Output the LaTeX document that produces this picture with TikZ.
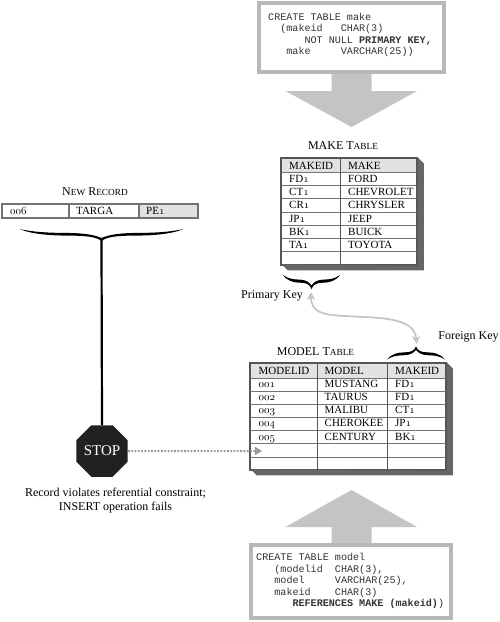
\documentclass[tikz,border=0pt]{standalone}
\usepackage{fontspec}
\setmainfont{Liberation Serif}
\setmonofont{Liberation Mono}
\usepackage{tikz}
\usetikzlibrary{arrows.meta, calc, positioning, shapes.geometric}
\definecolor{boxgray}{HTML}{B8B8B8}
\definecolor{arrowgray}{HTML}{C4C4C4}
\definecolor{framegray}{HTML}{555555}
\definecolor{shadowgray}{HTML}{666666}
\definecolor{headgray}{HTML}{E2E2E2}
\newcommand{\os}[1]{{\usefont{OML}{cmm}{m}{it}#1}}
\newcommand{\capsmall}[1]{{\fontsize{9.3}{11}\selectfont #1}}
\tikzset{
    sqlbox/.style={draw=boxgray, line width=4pt, fill=white, inner sep=0pt},
    sqltext/.style={anchor=west, align=left, inner sep=0pt, text=black!80, font=\fontsize{10.1}{11.5}\selectfont\ttfamily},
    bigarrow/.style={fill=arrowgray},
    tableframe/.style={draw=framegray, line width=1.5pt, fill=white, inner sep=0pt},
    rowline/.style={draw=black!55, line width=0.8pt},
    cell/.style={anchor=base west, inner sep=0pt, font=\fontsize{11}{13}\selectfont},
    title/.style={inner sep=0pt, font=\fontsize{12}{14}\selectfont},
    keylabel/.style={inner sep=0pt, font=\fontsize{12}{14}\selectfont},
    recfield/.style={draw=black!55, line width=2pt, fill=white, inner sep=0pt, minimum height=14pt},
    swash/.pic={
        \fill (-1,0) .. controls (-.8,.3) and (-.6,.32) .. (-.4,.33) .. controls (-.2,.35) and (-.08,.5) .. (0,.75)
            .. controls (.08,.5) and (.2,.35) .. (.4,.33) .. controls (.6,.32) and (.8,.3) .. (1,0)
            .. controls (.85,.45) and (.6,.55) .. (.4,.55) .. controls (.2,.55) and (.06,.65) .. (0,1)
            .. controls (-.06,.65) and (-.2,.55) .. (-.4,.55) .. controls (-.6,.55) and (-.85,.45) .. (-1,0) -- cycle;
    }
}
\begin{document}
\begin{tikzpicture}[x=1pt, y=-1pt, >=stealth]
    \useasboundingbox (0,0) rectangle (500,622);

    % CREATE TABLE make
    \node[sqlbox, minimum width=185pt, minimum height=69pt] (makesql) at (351.5,37.5) {};
    \node[sqltext] (makecode) at (268,35) {CREATE TABLE make\\~~(makeid~~~CHAR(3)\\~~~~~~NOT NULL \textbf{PRIMARY KEY,}\\~~~make~~~~~VARCHAR(25))};
    \fill[bigarrow] ($(makesql.south)+(-20,0)$) -- ++(0,17) -- ++(-46,0) -- ++(66,36) -- ++(65.5,-36) -- ++(-45.5,0) -- ++(0,-17) -- cycle;

    % MAKE table
    \node[title] (maketitle) at (343,146) {MAKE T\capsmall{ABLE}};
    \node[tableframe, minimum width=136pt, minimum height=107pt] (maketab) at (349,211.5) {};
    \fill[shadowgray] (maketab.north east) -- ++(6,6) -- ++(0,107) -- ++(-136,0) -- ++(-6,-6) -- (maketab.south east) -- cycle;
    \fill[headgray] (282,159) rectangle (416,172);
    \foreach \i in {0,...,6} \draw[rowline] (281,{172.5+13.15*\i}) -- (417,{172.5+13.15*\i});
    \draw[framegray, line width=0.9pt] (340,158) -- (340,265);
    \foreach \a/\b [count=\i from 0] in {MAKEID/MAKE, FD\os{1}/FORD, CT\os{1}/CHEVROLET, CR\os{1}/CHRYSLER, JP\os{1}/JEEP, BK\os{1}/BUICK, TA\os{1}/TOYOTA} {
        \node[cell] (makea\i) at (289,{169.2+13.2*\i}) {\a};
        \node[cell] (makeb\i) at (348,{169.2+13.2*\i}) {\b};
    }

    % Primary key
    \pic[xscale=28.5, yscale=14] (pkbrace) at (311.5,275) {swash};
    \node[keylabel] (pklabel) at (272,296) {Primary Key};

    % Foreign key
    \pic[xscale=29, yscale=-13] (fkbrace) at (416,359.5) {swash};
    \node[keylabel] (fklabel) at (468.5,337) {Foreign Key};

    % Key relation
    \coordinate (pktip) at (311,292);
    \coordinate (fktip) at (416.5,344);
    \draw[{Stealth[length=8pt,width=8pt]}-{Stealth[length=8pt,width=8pt]}, arrowgray, line width=1.7pt] (pktip) .. controls (311,312) and (322,315) .. (345,316) .. controls (375,318) and (415,316) .. (fktip);

    % MODEL table
    \node[title] (modeltitle) at (315.5,352) {MODEL T\capsmall{ABLE}};
    \node[tableframe, minimum width=196pt, minimum height=107pt] (modeltab) at (348,416.5) {};
    \fill[shadowgray] (modeltab.north east) -- ++(6,6) -- ++(0,107) -- ++(-196,0) -- ++(-6,-6) -- (modeltab.south east) -- cycle;
    \fill[headgray] (251,364) rectangle (445,377.5);
    \foreach \i in {0,...,6} \draw[rowline] (250,{378+13.15*\i}) -- (446,{378+13.15*\i});
    \draw[framegray, line width=0.9pt] (317,363) -- (317,470);
    \draw[framegray, line width=0.9pt] (387,363) -- (387,470);
    \foreach \a/\b/\c [count=\i from 0] in {MODELID/MODEL/MAKEID, \os{001}/MUSTANG/FD\os{1}, \os{002}/TAURUS/FD\os{1}, \os{003}/MALIBU/CT\os{1}, \os{004}/CHEROKEE/JP\os{1}, \os{005}/CENTURY/BK\os{1}} {
        \node[cell] (modela\i) at (258.5,{374.3+13.15*\i}) {\a};
        \node[cell] (modelb\i) at (324.5,{374.3+13.15*\i}) {\b};
        \node[cell] (modelc\i) at (395,{374.3+13.15*\i}) {\c};
    }

    % CREATE TABLE model
    \node[sqlbox, minimum width=200pt, minimum height=73pt] (modelsql) at (351,581.5) {};
    \node[sqltext] (modelcode) at (256,581) {CREATE TABLE model\\~~~(modelid~~CHAR(3),\\~~~model~~~~~VARCHAR(25),\\~~~makeid~~~~CHAR(3)\\~~~~~~\textbf{REFERENCES MAKE (makeid)})};
    \fill[bigarrow] ($(modelsql.north)+(-19.5,0)$) -- ++(0,-16) -- ++(-46,0) -- ++(66,-37) -- ++(65.5,37) -- ++(-45.5,0) -- ++(0,16) -- cycle;

    % New record
    \node[title] (rectitle) at (95,192) {N\capsmall{EW} R\capsmall{ECORD}};
    \node[recfield, minimum width=68pt] (rec1) at (35.5,211) {};
    \node[recfield, minimum width=70pt] (rec2) at (104,211) {};
    \node[recfield, minimum width=59pt, fill=headgray] (rec3) at (168,211) {};
    \node[cell] (rectext1) at (10,214.8) {\os{006}};
    \node[cell] (rectext2) at (76,214.8) {TARGA};
    \node[cell] (rectext3) at (146,214.8) {PE\os{1}};

    % Brace down to the stop sign
    \pic[xscale=82, yscale=12] (recbrace) at (101.5,229) {swash};
    \coordinate (rectip) at (101.5,240);
    \node[regular polygon, regular polygon sides=8, fill=black!87, minimum size=54pt, inner sep=0pt, text=white, font=\fontsize{15}{17}\selectfont] (stop) at (102,451) {STOP};
    \draw[line width=2.2pt] (rectip) -- (stop.north);

    % Rejected insert
    \coordinate (newrow) at (262,451);
    \draw[-{Triangle[length=7pt,width=8pt]}, black!40, line width=2pt, dash pattern=on 1.8pt off 1.5pt] (stop) -- (newrow);
    \node[keylabel, align=center] (stopnote) at (115.5,500.5) {Record violates referential constraint;\\INSERT operation fails};
\end{tikzpicture}
\end{document}
